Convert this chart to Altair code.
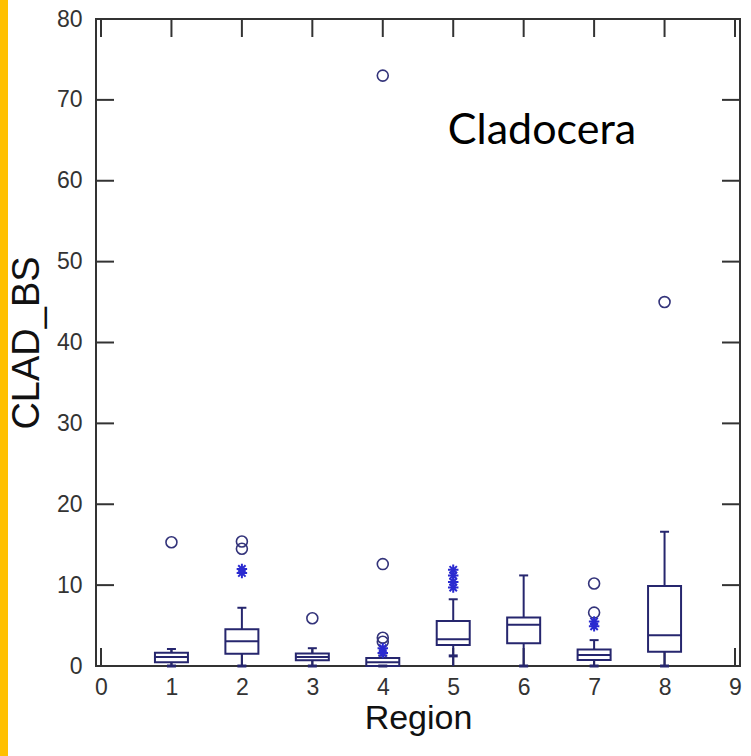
import altair as alt
import pandas as pd

# Box-plot summary per region
regions = [1, 2, 3, 4, 5, 6, 7, 8]
whisker_low = [0, 0, 0, 0, 0, 0, 0, 0]
cap_low = [0, 0, 0, 0, 1.25, 0, 0, 0]
q1 = [0.45, 1.5, 0.7, 0.0, 2.6, 2.8, 0.75, 1.75]
median = [1.1, 3.05, 1.1, 0.45, 3.3, 5.1, 1.35, 3.8]
q3 = [1.65, 4.55, 1.55, 1.0, 5.55, 6.0, 2.05, 9.9]
whisker_high = [2.1, 7.2, 2.2, 1.3, 8.25, 11.2, 3.2, 16.6]

# Far outside values (circles)
far_region = [1, 2, 2, 3, 4, 4, 4, 4, 7, 7, 8]
far_value = [15.3, 15.4, 14.5, 5.9, 73.0, 12.6, 3.5, 3.0, 10.2, 6.6, 45.0]

# Outside values (asterisks)
star_region = [2, 2, 4, 4, 5, 5, 5, 5, 7, 7]
star_value = [12.0, 11.5, 2.2, 1.6, 11.9, 11.2, 10.4, 9.7, 5.5, 4.9]

x_ticks = [0, 1, 2, 3, 4, 5, 6, 7, 8, 9]
y_ticks = [0, 10, 20, 30, 40, 50, 60, 70, 80]

label_text = ["Cladocera"]
label_x = [6.26]
label_y = [64.5]

W, H = 644, 647
INK = "#26266e"
STAR = "#2a2ad0"
FRAME = "#333333"
TICK_LEN = 18

boxes = pd.DataFrame({
    "x": regions, "lo": whisker_low, "caplo": cap_low, "q1": q1,
    "med": median, "q3": q3, "hi": whisker_high,
})
far = pd.DataFrame({"x": far_region, "y": far_value})
stars = pd.DataFrame({"x": star_region, "y": star_value})
xt = pd.DataFrame({"x": x_ticks})
yt = pd.DataFrame({"y": y_ticks})
note = pd.DataFrame({"x": label_x, "y": label_y, "t": label_text})

xscale = alt.Scale(domain=[0, 9], nice=False, zero=False)
yscale = alt.Scale(domain=[0, 80], nice=False, zero=False)
xaxis = alt.Axis(values=x_ticks, title="Region", format="d")
yaxis = alt.Axis(values=y_ticks, title="CLAD_BS", format="d")


def X(field="x"):
    return alt.X(f"{field}:Q", scale=xscale, axis=xaxis)


def Y(field):
    return alt.Y(f"{field}:Q", scale=yscale, axis=yaxis)


base = alt.Chart(boxes)

whisk_lo = base.mark_rule(color=INK, strokeWidth=2).encode(
    x=X(), y=Y("lo"), y2="q1:Q")
whisk_hi = base.mark_rule(color=INK, strokeWidth=2).encode(
    x=X(), y=Y("q3"), y2="hi:Q")
box = base.mark_bar(size=33, fill="white", stroke=INK, strokeWidth=2).encode(
    x=X(), y=Y("q1"), y2="q3:Q")
med = base.mark_tick(orient="horizontal", size=33, thickness=2, color=INK,
                     opacity=1).encode(x=X(), y=Y("med"))
cap_hi = base.mark_tick(orient="horizontal", size=9, thickness=2, color=INK,
                        opacity=1).encode(x=X(), y=Y("hi"))
cap_lo = base.mark_tick(orient="horizontal", size=9, thickness=3, color=INK,
                        opacity=1).encode(x=X(), y=Y("caplo"))

circles = alt.Chart(far).mark_point(
    shape="circle", filled=False, size=120, strokeWidth=1.6, color="#33337a",
    opacity=1,
).encode(x=X(), y=Y("y"))

asterisk = "M-1,0L1,0M0,-1L0,1M-0.7,-0.7L0.7,0.7M-0.7,0.7L0.7,-0.7"
star_pts = alt.Chart(stars).mark_point(
    shape=asterisk, filled=False, size=110, strokeWidth=2, color=STAR,
    opacity=1,
).encode(x=X(), y=Y("y"))

# Inward ticks on all four sides of the frame
left_ticks = alt.Chart(yt).mark_rule(color=FRAME, strokeWidth=2).encode(
    y=Y("y"), x=alt.value(0), x2=alt.value(TICK_LEN))
right_ticks = alt.Chart(yt).mark_rule(color=FRAME, strokeWidth=2).encode(
    y=Y("y"), x=alt.value(W - TICK_LEN), x2=alt.value(W))
bottom_ticks = alt.Chart(xt).mark_rule(color=FRAME, strokeWidth=2).encode(
    x=X(), y=alt.value(H), y2=alt.value(H - TICK_LEN))
top_ticks = alt.Chart(xt).mark_rule(color=FRAME, strokeWidth=2).encode(
    x=X(), y=alt.value(0), y2=alt.value(TICK_LEN))

title_text = alt.Chart(note).mark_text(
    font="Lato", fontSize=43, color="#000000", align="center",
    baseline="alphabetic",
).encode(x=X(), y=Y("y"), text="t:N")

# Gold strip along the left page edge
strip = alt.Chart(pd.DataFrame({"k": [0]})).mark_rect(color="#FFC000").encode(
    x=alt.value(-96), x2=alt.value(-88), y=alt.value(-19), y2=alt.value(H + 90))

chart = alt.layer(
    strip, left_ticks, right_ticks, bottom_ticks, top_ticks,
    whisk_lo, whisk_hi, box, med, cap_hi, cap_lo,
    circles, star_pts, title_text,
).properties(
    width=W, height=H,
    autosize=alt.AutoSizeParams(type="none"),
    padding={"left": 96, "top": 19, "right": 11, "bottom": 90},
    background="white",
).configure_view(
    stroke=FRAME, strokeWidth=2,
).configure_axis(
    domain=False, ticks=False, grid=False,
    labelFont="Liberation Sans", labelFontSize=23, labelColor="#333333",
    titleFont="Liberation Sans", titleFontSize=34, titleFontWeight="normal",
    titleColor="#111111",
).configure_axisLeft(
    labelPadding=14, titlePadding=10, titleFontSize=38,
).configure_axisBottom(
    labelPadding=10, titlePadding=2,
)

chart.save("out.html", embed_options={"renderer": "svg", "actions": False})
